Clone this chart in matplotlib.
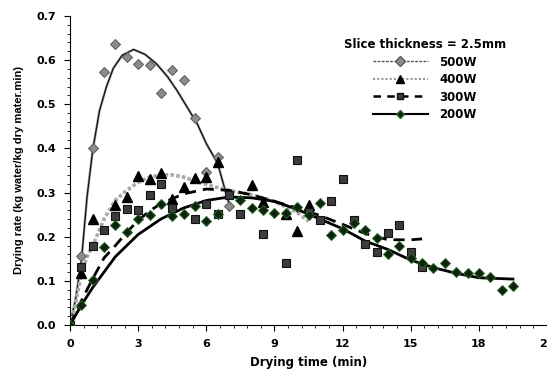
import matplotlib
matplotlib.use("Agg")
import matplotlib.pyplot as plt
from matplotlib.lines import Line2D
from matplotlib.ticker import MultipleLocator, FormatStrFormatter

plt.rcParams['font.family'] = ['DejaVu Sans']
plt.rcParams['font.weight'] = 'bold'

# ---- measured points ----
x500 = [0, 0.5, 1.0, 1.5, 2.0, 2.5, 3.0, 3.5, 4.0, 4.5, 5.0, 5.5, 6.0, 6.5, 7.0]
y500 = [0, 0.156, 0.40, 0.573, 0.637, 0.606, 0.592, 0.588, 0.526, 0.577, 0.554, 0.468, 0.347, 0.381, 0.269]

x400 = [0, 0.5, 1.0, 2.0, 2.5, 3.0, 3.5, 4.0, 4.5, 5.0, 5.5, 6.0, 6.5, 8.0, 8.5, 9.5, 10.0, 10.5]
y400 = [0, 0.118, 0.239, 0.271, 0.291, 0.337, 0.330, 0.345, 0.285, 0.312, 0.332, 0.336, 0.370, 0.316, 0.279, 0.251, 0.213, 0.271]

x300 = [0, 0.5, 1.0, 1.5, 2.0, 2.5, 3.0, 3.5, 4.0, 4.5, 5.5, 6.0, 6.5, 7.0, 7.5, 8.5, 9.5, 10.0,
        10.5, 11.0, 11.5, 12.0, 12.5, 13.0, 13.5, 14.0, 14.5, 15.0, 15.5]
y300 = [0, 0.132, 0.180, 0.215, 0.248, 0.262, 0.260, 0.294, 0.319, 0.265, 0.241, 0.275, 0.251, 0.294, 0.251, 0.207, 0.141, 0.373,
        0.255, 0.238, 0.281, 0.330, 0.238, 0.184, 0.166, 0.209, 0.226, 0.166, 0.131]

x200 = [0, 0.5, 1.0, 1.5, 2.0, 2.5, 3.0, 3.5, 4.0, 4.5, 5.0, 5.5, 6.0, 6.5, 7.5, 8.0, 8.5, 9.0, 9.5, 10.0,
        10.5, 11.0, 11.5, 12.0, 12.5, 13.0, 13.5, 14.0, 14.5, 15.0, 15.5, 16.0, 16.5, 17.0, 17.5, 18.0, 18.5, 19.0, 19.5]
y200 = [0, 0.045, 0.102, 0.176, 0.227, 0.211, 0.241, 0.249, 0.274, 0.248, 0.252, 0.270, 0.235, 0.251, 0.284, 0.265, 0.260, 0.254, 0.253, 0.267,
        0.250, 0.277, 0.204, 0.215, 0.232, 0.216, 0.198, 0.161, 0.179, 0.151, 0.141, 0.128, 0.141, 0.120, 0.118, 0.118, 0.109, 0.079, 0.088]

# ---- fitted curves ----
cx500 = [0, 0.25, 0.5, 0.75, 1.0, 1.3, 1.6, 1.9, 2.3, 2.8, 3.3, 3.8, 4.3, 4.7, 5.15, 5.6, 6.0, 6.5, 6.75, 7.0]
cy500 = [0, 0.06, 0.145, 0.29, 0.396, 0.486, 0.539, 0.581, 0.611, 0.624, 0.613, 0.592, 0.562, 0.532, 0.494, 0.456, 0.411, 0.366, 0.32, 0.275]

cx400 = [0, 0.25, 0.5, 0.75, 1.0, 1.5, 2.0, 2.5, 3.0, 3.5, 4.0, 4.5, 5.0, 6.0, 7.0, 8.0, 9.0, 10.0, 10.5]
cy400 = [0, 0.05, 0.115, 0.155, 0.18, 0.24, 0.283, 0.305, 0.323, 0.335, 0.34, 0.34, 0.335, 0.318, 0.305, 0.295, 0.28, 0.255, 0.235]

cx300 = [0, 0.5, 1.0, 1.5, 2.0, 2.5, 3.0, 3.5, 4.0, 5.0, 6.0, 7.0, 8.0, 9.0, 10.0, 11.0, 12.0, 13.0, 14.0, 15.0, 15.5]
cy300 = [0, 0.055, 0.105, 0.152, 0.18, 0.21, 0.237, 0.258, 0.275, 0.297, 0.308, 0.305, 0.295, 0.28, 0.265, 0.248, 0.228, 0.207, 0.193, 0.193, 0.195]

cx200 = [0, 0.5, 1.0, 2.0, 3.0, 4.0, 5.0, 6.0, 7.0, 8.0, 9.0, 10.0, 11.0, 12.0, 13.0, 14.0, 15.0, 16.0, 17.0, 18.0, 19.5]
cy200 = [0, 0.045, 0.085, 0.155, 0.205, 0.24, 0.265, 0.282, 0.29, 0.288, 0.28, 0.262, 0.24, 0.218, 0.19, 0.171, 0.147, 0.13, 0.117, 0.107, 0.104]

labels = ['500W', '400W', '300W', '200W']
legend_title = 'Slice thickness = 2.5mm'
xticks = [0, 3, 6, 9, 12, 15, 18, 21]

fig = plt.figure(figsize=(5.47, 3.71), dpi=100)
ax = fig.add_axes([0.128, 0.124, 0.872, 0.833])

# curves
ax.plot(cx500, cy500, color='#a0a0a0', lw=1.8, zorder=2)
ax.plot(cx500, cy500, color='#111111', lw=0.9, zorder=2)
ax.plot(cx400, cy400, color='#aaaaaa', lw=2.6, linestyle=(0, (1, 0.6)), zorder=2)
ax.plot(cx300, cy300, color='black', lw=2.0, linestyle=(0, (4, 2.5)), zorder=2)
ax.plot(cx200, cy200, color='black', lw=2.0, zorder=2)

# points
ax.plot(x500, y500, 'D', ms=5.5, mfc='#8c8c8c', mec='#5a5a5a', mew=0.7, ls='none', zorder=3)
ax.plot(x400, y400, '^', ms=6.5, mfc='black', mec='black', ls='none', zorder=3)
ax.plot(x300, y300, 's', ms=5.5, mfc='#3c3c3c', mec='#111111', mew=0.8, ls='none', zorder=3)
ax.plot(x200, y200, 'D', ms=4.8, mfc='#0e220e', mec='#2a6a2a', mew=0.7, ls='none', zorder=3)

ax.set_xlim(0, 21)
ax.set_ylim(0, 0.7)
ax.set_xticks(xticks)
ax.set_xticklabels([str(v) for v in xticks])
ax.xaxis.set_minor_locator(MultipleLocator(0.6))
ax.yaxis.set_major_locator(MultipleLocator(0.1))
ax.yaxis.set_minor_locator(MultipleLocator(0.02))
ax.yaxis.set_major_formatter(FormatStrFormatter('%.1f'))
ax.tick_params(axis='both', which='major', direction='out', length=4, width=0.8, labelsize=8, pad=6)
ax.tick_params(axis='both', which='minor', direction='out', length=2, width=0.6)
for lab in ax.get_xticklabels() + ax.get_yticklabels():
    lab.set_fontweight('bold')
ax.spines['top'].set_visible(False)
ax.spines['right'].set_visible(False)
ax.spines['left'].set_linewidth(0.8)
ax.spines['bottom'].set_linewidth(0.8)
ax.set_xlabel('Drying time (min)', fontsize=8.5, fontweight='bold', labelpad=5)
ax.set_ylabel('Drying rate (kg water/kg dry mater.min)', fontsize=8,
              fontweight='bold', labelpad=9, family=['Liberation Sans', 'DejaVu Sans'])

handles = [
    Line2D([], [], color='#555555', lw=1.0, linestyle=(0, (2, 1)), marker='D', ms=5, mfc='#8c8c8c', mec='#5a5a5a'),
    Line2D([], [], color='#999999', lw=1.5, linestyle=(0, (1, 1)), marker='^', ms=6, mfc='black', mec='black'),
    Line2D([], [], color='black', lw=1.8, linestyle=(0, (3, 2.5)), marker='s', ms=5, mfc='#3c3c3c', mec='#111111'),
    Line2D([], [], color='black', lw=1.5, marker='D', ms=4.5, mfc='#0e220e', mec='#2a6a2a'),
]
leg = ax.legend(handles, labels, title=legend_title, loc='upper left', bbox_to_anchor=(0.557, 0.955),
                frameon=False, handlelength=4.6, handletextpad=1.0,
                labelspacing=0.38, borderpad=0.2,
                prop={'weight': 'bold', 'size': 8.5})
leg.get_title().set_fontweight('bold')
leg.get_title().set_fontsize(8.5)

fig.savefig('out.png', dpi=100)
